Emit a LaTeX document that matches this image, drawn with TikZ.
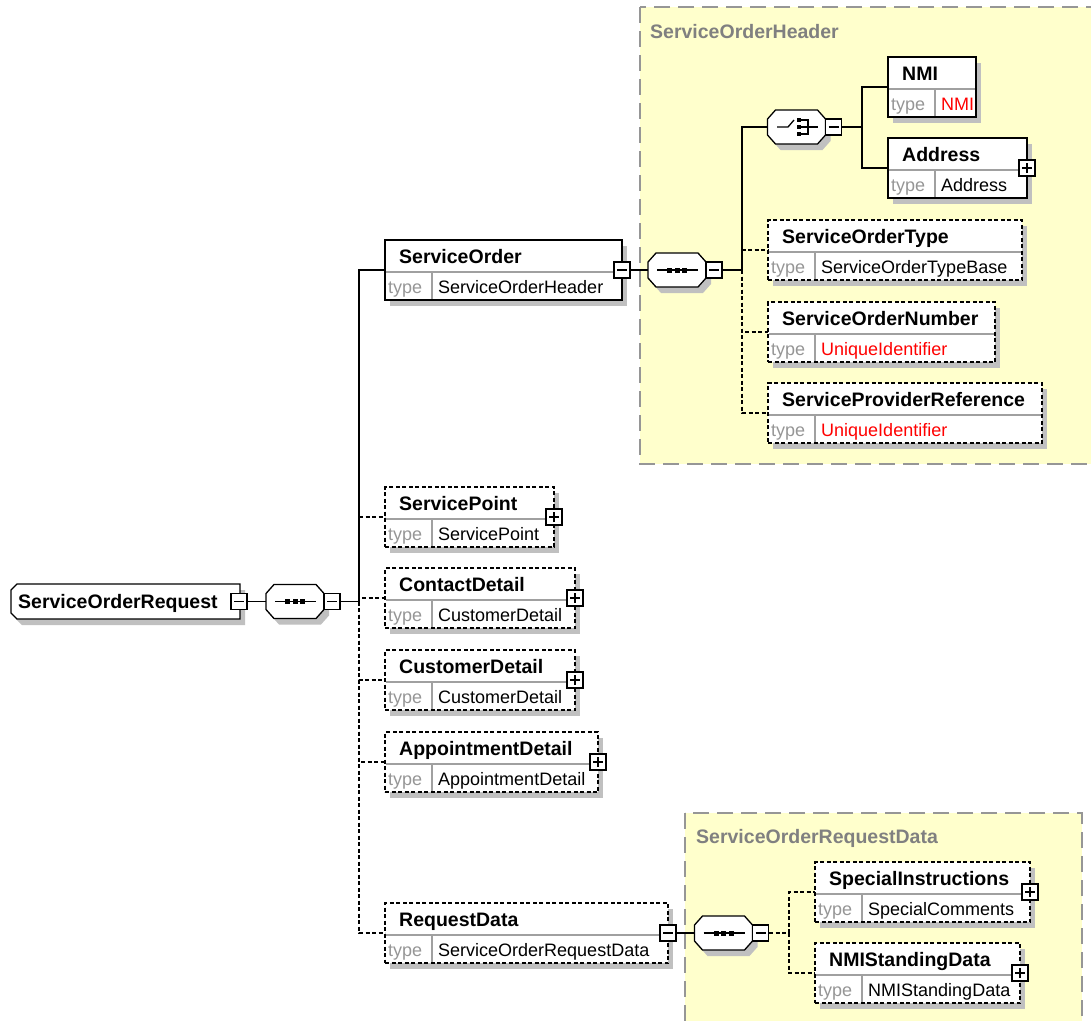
\documentclass[tikz,border=0pt]{standalone}
\usepackage{fontspec}
\setmainfont{Liberation Sans}
\definecolor{ybg}{RGB}{255,255,204}
\definecolor{shadowc}{RGB}{192,192,192}
\definecolor{grpgray}{RGB}{150,150,150}
\definecolor{grptext}{RGB}{128,128,128}
\definecolor{sepgray}{RGB}{160,160,160}
\definecolor{typegray}{RGB}{150,150,150}
\definecolor{tred}{RGB}{255,0,0}
\tikzset{
  conn/.style={line width=1.3pt, draw=black},
  optconn/.style={conn, dash pattern=on 4pt off 2.5pt},
  elbase/.style={rectangle, draw=black, fill=white, line width=1.3pt, inner sep=0pt, outer sep=0pt},
  optbox/.style={dash pattern=on 4pt off 2.5pt},
  reqbox/.style={},
  sepline/.style={draw=sepgray, line width=1.1pt},
  titletxt/.style={anchor=base west, inner sep=0pt, font=\bfseries\fontsize{19.5pt}{22pt}\selectfont},
  typelbl/.style={anchor=base west, inner sep=0pt, text=typegray, font=\fontsize{18pt}{21pt}\selectfont},
  typetxt/.style={anchor=base west, inner sep=0pt, font=\fontsize{18pt}{21pt}\selectfont},
  grp/.style={fill=ybg, draw=grpgray, line width=1.8pt, dash pattern=on 16pt off 8pt},
  grptitle/.style={anchor=base west, inner sep=0pt, text=grptext, font=\bfseries\fontsize{19.5pt}{22pt}\selectfont},
  expbox/.style={rectangle, draw=black, fill=white, line width=1.1pt, minimum size=16pt, inner sep=0pt},
  expline/.style={line width=1.1pt, draw=black},
  hub/.style={rectangle, minimum width=58pt, minimum height=34pt, inner sep=0pt, outer sep=0pt}
}
% element box: #1 name, #2 left, #3 top, #4 width, #5 style, #6 title, #7 type, #8 type colour
\newcommand\elem[8]{%
  \fill[shadowc] (#2+5,#3+6) rectangle (#2+#4+5,#3+66);
  \node[elbase,#5,minimum width=#4pt,minimum height=60pt,anchor=north west] (#1) at (#2,#3) {};
  \draw[sepline] (#2+0.7,#3+32) -- (#2+#4-0.7,#3+32) (#2+47,#3+32) -- (#2+47,#3+59.3);
  \node[titletxt] (#1-t) at (#2+14,#3+23) {#6};
  \node[typelbl] (#1-l) at (#2+3,#3+53) {type};
  \node[typetxt,text=#8] (#1-v) at (#2+53,#3+53) {#7};
}
\newcommand\plusat[1]{%
  \node[expbox] (#1-x) at (#1.east) {};
  \draw[expline] ([xshift=-5pt]#1-x.center) -- ([xshift=5pt]#1-x.center);
  \draw[expline] ([yshift=-5pt]#1-x.center) -- ([yshift=5pt]#1-x.center);
}
\newcommand\minusat[1]{%
  \node[expbox] (#1-x) at (#1.east) {};
  \draw[expline] ([xshift=-5pt]#1-x.center) -- ([xshift=5pt]#1-x.center);
}
% compositor: #1 name, #2 cx, #3 cy, #4 symbol
\newcommand\compo[4]{%
  \begin{scope}[shift={(#2,#3)}]
    \fill[shadowc,shift={(5,6)}] (-29,-8) -- (-21,-17) -- (21,-17) -- (29,-8) -- (29,8) -- (21,17) -- (-21,17) -- (-29,8) -- cycle;
    \draw[conn,fill=white] (-29,-8) -- (-21,-17) -- (21,-17) -- (29,-8) -- (29,8) -- (21,17) -- (-21,17) -- (-29,8) -- cycle;
    \node[hub] (#1) at (0,0) {};
    #4
    \node[expbox] (#1-x) at (37,0) {};
    \draw[expline] ([xshift=-5pt]#1-x.center) -- ([xshift=5pt]#1-x.center);
  \end{scope}
}
\newcommand\seqsym{%
  \draw[conn] (-20,0) -- (21,0);
  \fill (-10,-2.5) rectangle (-5,2.5);
  \fill (-2.5,-2.5) rectangle (2.5,2.5);
  \fill (5,-2.5) rectangle (10,2.5);
}
\newcommand\choicesym{%
  \draw[conn] (-19.5,0) -- (-8.5,0) -- (-2.5,-7);
  \fill (0.5,-9) rectangle (4.5,-5);
  \fill (0.5,-2) rectangle (4.5,2);
  \fill (0.5,5) rectangle (4.5,9);
  \draw[conn] (4.5,-7) -- (11.5,-7) -- (11.5,7) -- (4.5,7);
  \draw[conn] (4.5,0) -- (21.5,0);
}
\begin{document}
\begin{tikzpicture}[x=1pt,y=-1pt]
\clip (0,0) rectangle (1091,1020);
\fill[white] (0,0) rectangle (1091,1020);

% groups
\draw[grp] (640,7) rectangle (1110,464);
\node[grptitle] (sohT) at (650,38) {ServiceOrderHeader};
\draw[grp] (685,813) rectangle (1082,1040);
\node[grptitle] (sordT) at (696,843) {ServiceOrderRequestData};

% root
\fill[shadowc,shift={(5,6)}] (17,584) -- (240,584) -- (240,619) -- (17,619) -- (11,613) -- (11,590) -- cycle;
\draw[conn,fill=white] (17,584) -- (240,584) -- (240,619) -- (17,619) -- (11,613) -- (11,590) -- cycle;
\node[rectangle,minimum width=229pt,minimum height=35pt,inner sep=0pt] (root) at (125.5,601.5) {};
\node[titletxt] (root-t) at (18,608) {ServiceOrderRequest};
\node[expbox] (root-x) at (239,601.5) {};
\draw[expline] ([xshift=-5pt]root-x.center) -- ([xshift=5pt]root-x.center);

% compositors
\compo{seq1}{295}{601.5}{\seqsym}
\compo{seq2}{677}{270}{\seqsym}
\compo{choice}{796.5}{127}{\choicesym}
\compo{seq3}{723.5}{933}{\seqsym}

% elements of ServiceOrderHeader
\elem{NMI}{888}{57}{88}{reqbox}{NMI}{NMI}{tred}
\elem{Address}{888}{138}{139}{reqbox}{Address}{Address}{black}
\plusat{Address}
\elem{SOType}{768}{220}{254}{optbox}{ServiceOrderType}{ServiceOrderTypeBase}{black}
\elem{SONumber}{768}{302}{227}{optbox}{ServiceOrderNumber}{UniqueIdentifier}{tred}
\elem{SPRef}{768}{383}{274}{optbox}{ServiceProviderReference}{UniqueIdentifier}{tred}

% children of root sequence
\elem{SO}{385}{240}{237}{reqbox}{ServiceOrder}{ServiceOrderHeader}{black}
\minusat{SO}
\elem{SP}{385}{487}{169}{optbox}{ServicePoint}{ServicePoint}{black}
\plusat{SP}
\elem{CD}{385}{568}{190}{optbox}{ContactDetail}{CustomerDetail}{black}
\plusat{CD}
\elem{CuD}{385}{650}{190}{optbox}{CustomerDetail}{CustomerDetail}{black}
\plusat{CuD}
\elem{AD}{385}{732}{213}{optbox}{AppointmentDetail}{AppointmentDetail}{black}
\plusat{AD}
\elem{RD}{385}{903}{283}{optbox}{RequestData}{ServiceOrderRequestData}{black}
\minusat{RD}

% elements of ServiceOrderRequestData
\elem{SI}{815}{862}{215}{optbox}{SpecialInstructions}{SpecialComments}{black}
\plusat{SI}
\elem{NSD}{815}{943}{205}{optbox}{NMIStandingData}{NMIStandingData}{black}
\plusat{NSD}

% junction points
\coordinate (t1) at (359,601.5);
\coordinate (t2) at (742,270);
\coordinate (t3) at (789,933);
\coordinate (t4) at (862,127);

% connectors
\draw[conn] (root-x.east) -- (seq1.west);
\draw[conn] (seq1-x.east) -- (t1);
\draw[optconn] (t1) |- (SP.west);
\draw[optconn] (t1) |- (CD.west);
\draw[optconn] (t1) |- (CuD.west);
\draw[optconn] (t1) |- (AD.west);
\draw[optconn] (t1) |- (RD.west);
\draw[conn] (t1) |- (SO.west);

\draw[conn] (SO-x.east) -- (seq2.west);
\draw[conn] (seq2-x.east) -- (t2);
\draw[optconn] (t2) |- (SOType.west);
\draw[optconn] (t2) |- (SONumber.west);
\draw[optconn] (t2) |- (SPRef.west);
\draw[conn] (t2) |- (choice.west);

\draw[conn] (choice-x.east) -- (t4);
\draw[conn] (t4) |- (NMI.west);
\draw[conn] (t4) |- (Address.west);

\draw[conn] (RD-x.east) -- (seq3.west);
\draw[optconn] (seq3-x.east) -- (t3);
\draw[optconn] (t3) |- (SI.west);
\draw[optconn] (t3) |- (NSD.west);
\end{tikzpicture}
\end{document}
